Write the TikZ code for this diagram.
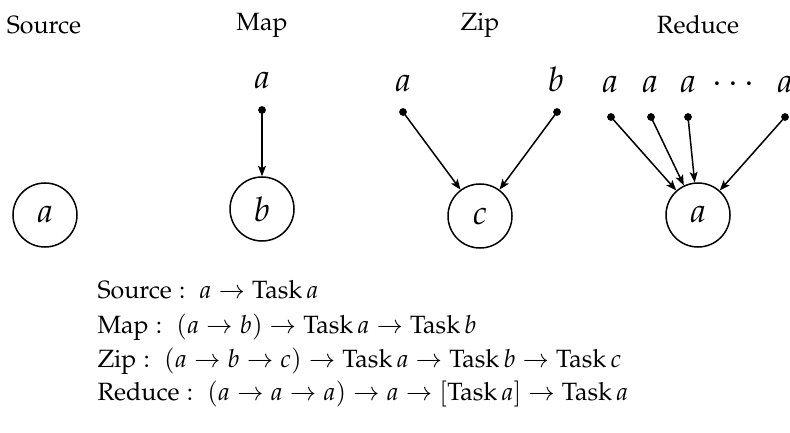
\documentclass[tikz,border=0pt]{standalone}
\usepackage[T1]{fontenc}
\usepackage{mathpazo}
\usepackage{amsmath}
\usepackage{tikz}
\usetikzlibrary{arrows.meta,positioning,calc}

\begin{document}
\begin{tikzpicture}[
  x=0.4pt,y=-0.4pt,
  ttl/.style={font=\normalsize},
  val/.style={circle,draw,line width=0.6pt,minimum size=25.6pt,inner sep=0pt,
              font=\fontsize{13.5}{16}\selectfont},
  inp/.style={anchor=base,font=\fontsize{13.5}{16}\selectfont},
  dot/.style={circle,fill,inner sep=0pt,minimum size=3.1pt},
  sig/.style={anchor=base west,inner sep=0pt},
  ar/.style={-{Stealth[length=4.2pt,width=3.2pt,inset=1pt]},line width=0.6pt,shorten <=-1.5pt}
]
\useasboundingbox (0,0) rectangle (790,432);

% column titles
\node[ttl] (srcT) at (44,25) {Source};
\node[ttl] (mapT) at (262,25) {Map};
\node[ttl] (zipT) at (480,25) {Zip};
\node[ttl] (redT) at (698,25) {Reduce};

% task nodes
\node[val] (src) at (45,215) {$a$};
\node[val] (map) at (262,209) {$b$};
\node[val] (zip) at (480,216) {$c$};
\node[val] (red) at (698,215) {$a$};

% map input
\node[inp] (mapA) at (262,89) {$a$};
\node[dot] (mapD) at (262,110) {};
\draw[ar] (mapD) -- (map);

% zip inputs
\node[inp] (zipA) at (403,92) {$a$};
\node[inp] (zipB) at (556,92) {$b$};
\node[dot] (zipDa) at (403,112) {};
\node[dot] (zipDb) at (557,112) {};
\draw[ar] (zipDa) -- (zip);
\draw[ar] (zipDb) -- (zip);

% reduce inputs
\node[inp] (redA1) at (610,93) {$a$};
\node[inp] (redA2) at (650,93) {$a$};
\node[inp] (redA3) at (688,93) {$a$};
\node[inp] (redDots) at (736,93) {$\cdots$};
\node[inp] (redAn) at (785,93) {$a$};
\foreach \i/\x in {1/611,2/651,3/688,n/785}{
  \node[dot] (redD\i) at (\x,117) {};
  \draw[ar] (redD\i) -- (red);
}

% signatures
\node[sig] (sigSrc) at (97,298) {$\mathrm{Source}:\;a \to \mathrm{Task}\,a$};
\node[sig] (sigMap) at (97,333) {$\mathrm{Map}:\;(a \to b) \to \mathrm{Task}\,a \to \mathrm{Task}\,b$};
\node[sig] (sigZip) at (97,367) {$\mathrm{Zip}:\;(a \to b \to c) \to \mathrm{Task}\,a \to \mathrm{Task}\,b \to \mathrm{Task}\,c$};
\node[sig] (sigRed) at (97,400) {$\mathrm{Reduce}:\;(a \to a \to a) \to a \to [\mathrm{Task}\,a] \to \mathrm{Task}\,a$};
\end{tikzpicture}
\end{document}
